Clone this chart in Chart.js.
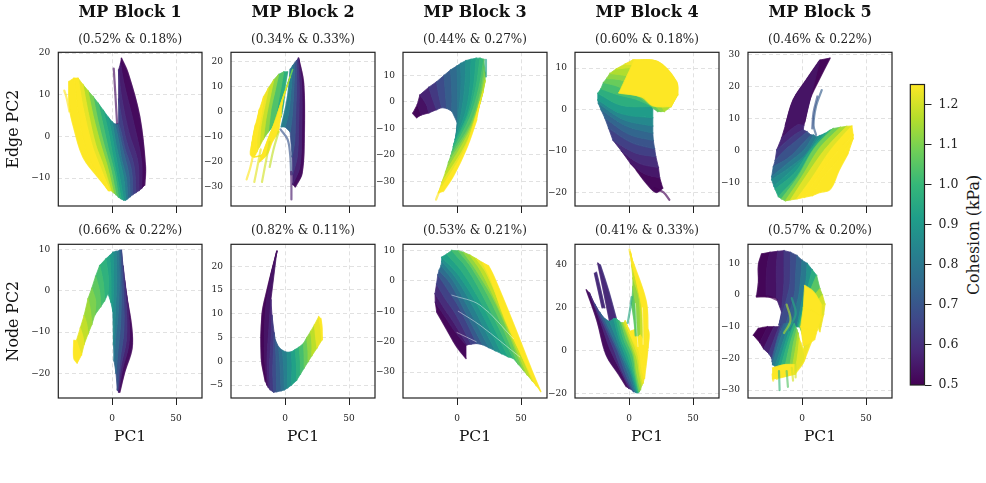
<!DOCTYPE html>
<html>
<head>
<meta charset="utf-8">
<title>MP Block PCA</title>
<script src="https://cdn.jsdelivr.net/npm/chart.js@4"></script>
<style>
  html, body { margin: 0; padding: 0; background: #fff; }
  #page { position: relative; width: 986px; height: 483px; overflow: hidden; }
  #page canvas { position: absolute; }
  #cbarLabel {
    position: absolute; left: 973px; top: 235px; white-space: nowrap;
    font: 15.8px "DejaVu Serif", serif; color: #1a1a1a;
    transform: translate(-50%, -50%) rotate(-90deg);
  }
</style>
</head>
<body>
<div id="page"><div id="cbarLabel">Cohesion (kPa)</div></div>
<script>
// every curve: cohesion first, then x,y pairs (PC1, PC2)
const blockTitles = ['MP Block 1', 'MP Block 2', 'MP Block 3', 'MP Block 4', 'MP Block 5'];
const edgeVariance = ['(0.52% & 0.18%)', '(0.34% & 0.33%)', '(0.44% & 0.27%)', '(0.60% & 0.18%)', '(0.46% & 0.22%)'];
const nodeVariance = ['(0.66% & 0.22%)', '(0.82% & 0.11%)', '(0.53% & 0.21%)', '(0.41% & 0.33%)', '(0.57% & 0.20%)'];
const xTicks = [0, 50];
const cbarTicks = [0.5, 0.6, 0.7, 0.8, 0.9, 1.0, 1.1, 1.2];

const edgeTicks1 = [-10, 0, 10, 20];
const edgeTicks2 = [-30, -20, -10, 0, 10, 20];
const edgeTicks3 = [-30, -20, -10, 0, 10];
const edgeTicks4 = [-20, -10, 0, 10];
const edgeTicks5 = [-10, 0, 10, 20, 30];
const nodeTicks1 = [-20, -10, 0, 10];
const nodeTicks2 = [-5, 0, 5, 10, 15, 20];
const nodeTicks3 = [-30, -20, -10, 0, 10];
const nodeTicks4 = [-20, 0, 20, 40];
const nodeTicks5 = [-30, -20, -10, 0, 10];

const edgeCurves1 = [
  [0.50, 7.2,18.8, 12.4,15.2, 21.5,4.8, 26,-7.3, 25.4,-11.7],
  [0.54, 6.5,17.5, 9,13, 17,3, 23,-6, 23,-12.5],
  [0.58, 5,16, 7,10, 13,1, 20,-6, 21,-13],
  [0.62, 5,9, 7,5, 11,-1, 17,-7, 18.5,-13.5],
  [0.67, 5,3.1, 7,1, 10,-3, 15,-8, 16,-14],
  [0.72, 4,3, 6,0, 9,-4, 13,-9, 14,-14.5],
  [0.78, 2,3, 5,-1, 7,-5, 11,-10, 12,-15],
  [0.85, 0,3.5, 3,-2, 6,-6, 9,-10, 10.5,-15.3],
  [0.90, -3,4.6, 0,0, 3,-5, 6,-10, 9,-15.3],
  [0.95, -7,6.3, -3,1, 0,-4, 4,-10, 7,-15],
  [1.00, -11,8, -7,2.5, -3,-3, 2,-9, 5,-14.6],
  [1.06, -15,9.6, -11,3.5, -6,-2.5, -1,-8, 3,-14],
  [1.13, -19,11, -15,5, -9,-2, -4,-7, 1,-13.5],
  [1.20, -23,12.5, -19,6, -13,-2, -7,-7, -1,-13],
  [1.25, -26.7,14, -23,7, -16,-2, -10,-7, -2,-13],
  [1.25, -30,14, -27,6, -21,-3, -14,-8, -3,-13],
  [1.25, -34,13.2, -33.5,7, -30,2, -22.8,-5, -12,-9.5, -2,-13],
];
const edgeStrands1 = [
  [0.52, 1.2,16.3, 2.5,10, 3.8,3.2],
  [1.25, -37.5,11, -35.5,9, -33.5,6],
];

const edgeCurves2a = [
  [0.50, 10.6,21.5, 14.5,11.5, 15,-8.5, 13.3,-24.5, 8,-30],
  [0.55, 10.5,21.5, 13,11, 13,-8, 11.5,-22, 6,-29],
  [0.60, 10,21, 11,11, 10.5,-7, 9.5,-18, 6,-25],
  [0.66, 9,20.5, 9,11, 8,-5, 7.5,-12, 5.5,-18],
  [0.72, 7.5,19.5, 7,11, 5.5,-2, 4,-8],
  [0.78, 6,18.5, 5,11, 3,0, 0,-6],
  [0.85, 4,17, 3,10, 1,3, -3,-6],
];
const edgeCurves2b = [
  [0.95, 2,16, 0,10, -1,4, -3,-2],
  [1.00, -1,16, -3,10, -6,2, -8,-5],
  [1.08, -5,15, -8,8, -11,1, -13,-8],
  [1.16, -8.8,12.8, -12,5, -15,-3, -17,-11],
  [1.22, -13,9.5, -16,2, -19,-6, -20,-14],
  [1.25, -16.7,6.1, -19,-2, -22,-10, -22,-16],
  [1.25, -20,1, -22,-5, -24,-12, -23,-17],
  [1.25, -23,-5, -25,-10, -26,-15, -24,-18],
  [1.25, -25.8,-12.5, -27,-17, -24,-18, -15,-17],
];
const edgeCurves2c = [
  [1.05, 6,17, 2,11, -2,4, -5,-2],
  [1.12, 4,14, 0,8, -4,2, -8,-4],
  [1.18, 2,11, -2,5, -6,-1, -10,-7],
  [1.22, 0,8, -4,2, -8,-5, -13,-12],
  [1.25, -2,4, -6,-2, -11,-8, -17,-16],
  [1.25, -3,-1, -7,-6, -12,-12, -19,-18],
  [1.25, -5,-8, -10,-12, -14,-17, -20,-20],
];
const edgeStrands2 = [
  [0.70, -3.5,-7, 2,-11, 4,-17, 4.8,-25],
  [0.55, 4.8,-24, 5,-30, 5,-35],
  [1.25, -24,-15, -27,-22, -30,-27],
  [1.22, -19,-15, -22,-23, -24,-28],
  [1.20, -12,-12, -15,-20, -18,-28],
  [1.18, -5,-8, -9,-15, -12,-22],
];

const edgeCurves3 = [
  [0.50, -34.6,-4.3, -31.5,-6],
  [0.52, -31,-1, -28,-5],
  [0.55, -29,2.6, -24,-1, -22,-4.2],
  [0.60, -22,5.5, -19,1, -16,-3],
  [0.65, -16,7.5, -14,2, -12,-2.2],
  [0.70, -10,10, -9,3, -8,-2.5],
  [0.74, -5,12, -4,4, -4,-3.6],
  [0.78, 0,13.5, 0.5,5, 0.3,-8],
  [0.82, 3,14.5, 3,4, 1,-5, -0.5,-12],
  [0.86, 7,15.5, 6,5, 3,-5, -1,-13],
  [0.90, 11,16, 10,5, 6,-5, -1.6,-14.3],
  [0.94, 15,16.4, 13,6, 8,-5, -2.5,-16],
  [0.98, 18,16.4, 15,6, 9,-5, -3,-17],
  [1.02, 21,16, 17,5, 10,-6, -4,-19],
  [1.06, 21.5,13, 18,3, 11,-8, -5,-20.5],
  [1.10, 22,11, 18,1, 10,-10, -6.8,-23],
  [1.15, 22,8, 17,-2, 9,-12, -9,-26.5],
  [1.20, 20.5,4, 15,-5, 7,-16, -12,-30.5],
  [1.25, 18,0, 13,-9, 5,-19, -14.6,-34.3],
  [1.25, 15.4,-6.8, 7.6,-17.4, -2.9,-28, -10.7,-33.7],
];
const edgeStrands3 = [
  [0.92, 22.6,15.8, 22.6,9.5],
  [1.25, -12,-32, -14.5,-34.5, -16.4,-36.8],
];

const edgeCurves4a = [
  [0.50, 5.6,-14.6, 14,-18, 21,-20, 26.4,-19],
  [0.53, 1,-13, 12,-15.5, 24,-16.5],
  [0.57, -6,-10, 8,-13, 23,-14],
  [0.62, -12.6,-7.4, 5,-10.5, 21,-11.4],
  [0.67, -16,-4.5, 2,-8, 20,-9.5],
  [0.72, -19,-2, 0,-6, 19,-7.5],
  [0.77, -22,0, -2,-4, 18.6,-5.7],
  [0.82, -24,1.5, -4,-2.5, 18.6,-4],
  [0.88, -24.4,2.3, -6,-1, 18.6,-2],
  [0.94, -24.4,3.9, -6,1, 18.6,0.7],
  [1.00, -22,5, -8,3.5, 5,2.5, 20,0.5],
  [1.05, -20,6.5, -8,5.5, 8,3, 22.5,-0.5],
  [1.10, -17.5,7.5, -5,7, 10,4, 25,-0.5],
  [1.14, -15,8.7, 0,8, 15,6, 27.7,-0.5],
  [1.18, -10,9.8, 3,10, 18,8, 33,0.7],
  [1.22, -3,11, 12,10.5, 25,9, 38,3.5],
  [1.25, 3,12, 22.5,11.5, 37,6.7, 38,3.5],
];
const edgeCurves4b = [
  [1.25, 4,11.8, 22.5,11.5, 37,6.7, 38,3.5],
  [1.25, -8,4, 10,3, 18.6,0.9, 33,0.7],
];
const edgeStrands4 = [
  [0.50, 20,-19, 27,-20, 31.5,-21.8],
];

const edgeCurves5 = [
  [0.50, 21.9,29, 13,22, 6,16, 2,9],
  [0.52, 14,28.4, 3,22, -6.8,16, -13,8],
  [0.56, 1.5,8, -4,8, -16,4],
  [0.60, 1,6.6, -6,5, -19.8,0.3],
  [0.66, 4,6, -5,3, -14,0, -21,-3],
  [0.72, 7,5, 0,2, -10,-2, -22.5,-5],
  [0.78, 9,5, 2,0.5, -10,-3.5, -23.7,-8],
  [0.84, 11.5,4.4, 3,-1, -9,-5, -23.7,-9],
  [0.88, 14,4.8, 4,-1, -8,-6, -22,-11],
  [0.92, 18,5.5, 6,0, -6,-7, -21,-12],
  [0.98, 22,6.5, 8,0, -4,-8, -18.5,-14.3],
  [1.05, 24.5,7, 10,1, -3,-8, -16,-15],
  [1.12, 30,7.4, 14,1, 0,-8, -13,-15.6],
  [1.18, 35,7.7, 18,0.5, 3,-8, -9,-15.3],
  [1.25, 39,7.8, 22,0, 7,-9, -4,-15],
  [1.25, 40,5, 24,-2, 11,-9, 2,-14.5],
  [1.25, 40,3.9, 28,-3, 15,-9, 8,-14],
  [1.25, 36,-0.8, 29,-6, 22,-12, 14,-13],
];
const edgeStrands5 = [
  [0.72, 15.4,19, 11,14, 9,8, 11,5],
  [0.70, 12,17, 9,12, 8,7],
];

const nodeCurves1 = [
  [0.50, 11,-1, 15,-8.3, 15.5,-13.9, 9.8,-19.6, 5.9,-24.5],
  [0.55, 9.5,3, 13,-6, 13,-13, 8,-19, 5,-24.5],
  [0.60, 8.5,6, 11,-4, 11,-12, 7,-18, 4.5,-24],
  [0.66, 7.2,9.8, 9,-2, 9,-10, 6,-17, 4,-24],
  [0.72, 6,9.8, 7,0, 6.5,-8, 4,-16, 3,-20],
  [0.78, 5,9.6, 5.5,2, 4.5,-6, 2.5,-12, 1.5,-17],
  [0.83, 3,9.5, 3.5,3, 2.5,-5, 1,-13],
  [0.88, 0.6,9.3, 1,3, 0.5,-5],
  [0.92, -2,8.5, -1,3, -1,-2.8],
  [0.96, -5,7.7, -3,3, -3.3,-0.7],
  [1.00, -9.8,6.1, -7,2, -6,-2.5],
  [1.04, -13,3.5, -10,0, -9,-3.9],
  [1.08, -16,0.6, -13,-2.5, -13.7,-5.9],
  [1.12, -18.9,-1.9, -17,-5, -16,-8.2],
  [1.16, -22,-6, -20,-8, -19,-10.5],
  [1.20, -25,-9, -23,-11, -22,-13],
  [1.25, -28,-12, -26,-14, -24,-15.5],
  [1.25, -30,-12, -30,-16.3, -27.4,-17.5],
];
const nodeStrands1 = [];

const nodeCurves2 = [
  [0.50, -6.3,23.2, -14,15, -18,9.7, -18.5,0.7, -15.4,-4.2],
  [0.52, -6.3,23.2, -12,16.7, -15.5,9.7, -16,1, -14,-5],
  [0.56, -11,13, -12.5,7, -14,0, -13,-5.5],
  [0.60, -10.2,9.7, -11,4, -12,-1, -11.5,-6],
  [0.65, -8.5,6, -9,2, -9.5,-2, -8.9,-6.5],
  [0.70, -7.6,4.5, -7,1, -6.5,-6.4],
  [0.75, -5,3, -4,0, -3,-6.2],
  [0.80, -2,2.3, -1,-1, -0.5,-6],
  [0.85, 1.6,1.9, 2,-1, 2,-5.6],
  [0.90, 5,2, 5.5,-1, 5,-5],
  [0.95, 8,2.5, 9,-1, 9,-4],
  [1.00, 11,3, 12,0, 12,-2.7],
  [1.05, 14.5,3.8, 15,1, 15,-1.4],
  [1.10, 17,5, 18,2, 18,-0.1],
  [1.15, 20,6.3, 21,4, 21,1.2],
  [1.20, 23,7.7, 24,5, 25,2.8],
  [1.25, 26.3,9.4, 28,7, 28.9,4.5],
  [1.25, 28,9, 28.9,7, 28.9,4.5],
];
const nodeStrands2 = [];

const nodeCurves3 = [
  [0.50, -15.9,-10.2, -8,-16, -0.2,-21.7, 7,-25.5],
  [0.53, -17,-7, -9,-12, -1,-17, 7,-21.1],
  [0.57, -17.2,-4.2, -10,-9, -2,-14, 8,-21],
  [0.62, -16,-1, -9,-6, -1,-11, 11,-20.8],
  [0.68, -15,2, -7,-3, 2,-9, 15.4,-20.6],
  [0.74, -14,3.5, -5,-1, 5,-9, 20,-21],
  [0.80, -12.5,5, -3,0, 9,-9, 25,-22],
  [0.85, -12,6.5, -1,1, 12,-8, 30,-23],
  [0.90, -12,7.8, 1,2, 16,-8, 35,-24],
  [0.95, -8,8.8, 4,3, 20,-8, 40,-25],
  [1.00, -4.2,10, 8,4, 24,-8, 44,-25.5],
  [1.05, 1,9.9, 12,4, 28,-8, 48,-27.5],
  [1.10, 5,9.4, 15,3.5, 31,-8, 52,-29.5],
  [1.15, 10,8.5, 19,3, 34,-10, 55,-31],
  [1.20, 15,7.3, 23,2.5, 37,-11, 59,-33],
  [1.25, 20,6, 26,1, 38,-13, 62,-34.5],
  [1.25, 24.5,5, 28.4,1.8, 44,-14, 58.3,-29.3, 65.4,-36.4],
];
const nodeStrands3 = [];
// pale streaks where neighbouring curves leave a gap
const nodeGaps3 = [
  [-4,-4.7, 18,-8, 44,-19],
  [1,-10, 18,-14.6, 49,-25],
  [0,-17, 15,-20],
];

const nodeCurves4a = [
  [0.55, -24.4,40.8, -20,28, -15.2,14],
  [0.62, -22.5,40, -16,28, -10,15],
];
const nodeCurves4b = [
  [0.58, -27,36, -24,28, -21,20],
  [0.60, -25.5,36.5, -22,28, -19,20],
];
const nodeCurves4c = [
  [0.50, -33.4,28.4, -25,14, -17.8,-1.9, -8,-11, -2.2,-16.6],
  [0.55, -31,27, -22,13, -15,1, -6,-10, 0,-17.5],
  [0.62, -27,22, -19,11, -12,1, -5,-10, 2,-18],
  [0.70, -23,18, -16,9, -9,0, -3,-10, 3.5,-19],
  [0.76, -19,15, -13,7, -7,-1, -1,-10, 4.5,-19],
  [0.84, -15.2,13.6, -10,6, -5,-2, 1,-10, 5.5,-19.4],
  [0.90, -12,15, -8,6, -3,-2, 2,-10, 6.5,-19.4],
  [0.96, -10,15, -6,5, -1,-2, 3,-10, 7,-19.4],
  [1.00, -8,14, -4,5, 1,-2, 4,-10, 7.5,-19],
  [1.06, -6,13, -2,5, 3,-2, 5,-10, 8,-19],
  [1.12, -5,13, 0,5, 4,-2, 6,-10, 9,-18],
  [1.18, -4,13, 1,5, 6,-3, 8,-10, 10,-16],
  [1.22, -3,14, 2,6, 7,-2, 9,-10, 11,-15],
  [1.25, -2,12, 3,6, 8,0, 10,-8, 12,-12.7],
  [1.25, 0,9, 6,2, 11,-2, 12,-12.7],
  [1.25, 5,10, 14.7,10, 14.7,1.3, 12,-12.7],
];
const nodeCurves4d = [
  [1.02, 2,22, 4,14, 5,7],
  [1.10, 3,30, 6,18, 7,7],
  [1.15, 3,34, 8,24, 9,8],
  [1.22, 2,40, 8,28, 11,12, 11,6],
  [1.25, 1,46, 6,32, 11,18, 12,5],
  [1.25, 3,41.5, 13.4,23, 14.7,10, 14.7,1.3],
];
const nodeStrands4 = [
  [0.95, -1,13, 1,20, 2,25],
  [1.25, 0.4,47, 2,42],
];
const nodeGaps4 = [
  [5,22, 6,10, 7,2],
  [10.5,20, 11,8, 11,3],
];

const nodeCurves5a = [
  [0.50, -35.4,-0.5, -34,4, -34,9.5, -31.5,13],
  [0.52, -28,-0.5, -28,5, -27,10, -25,13.5],
  [0.55, -20,-1, -20,4, -20,9, -19,13.8],
  [0.60, -16,-5.3, -14,4, -14,9, -14,14],
  [0.65, -18,-9.5, -10,2, -9,8, -9,13.5],
  [0.70, -14,-11, -6,0, -5,6, -4,12.5],
  [0.76, -10,-11, -3,-1, -1,5, 0,11],
  [0.84, -4,-10, 0,-2, 3,4, 4,10],
  [0.92, -3,-10, 2,-2, 5,3, 8,8],
  [1.00, -2,-10, 3,-2, 7,2, 11.4,6.2],
  [1.10, 0,-12, 6,-4, 10,0, 14,2],
  [1.18, 1,-14, 7,-6, 12,-2, 16,0],
  [1.22, 2,-15, 8,-8, 13,-4, 18,-2.9],
  [1.22, 1,-18, 7,-12, 13,-8, 17,-6],
  [1.25, 2.3,-20, 8,-14, 12,-10, 14,-11.6],
];
const nodeCurves5b = [
  [0.50, -34,-10.5, -38,-12.7],
  [0.50, -27,-10, -33,-15],
  [0.54, -22,-10, -30,-17],
  [0.60, -18,-10, -26,-18.5],
  [0.66, -16,-9, -23.6,-20],
  [0.72, -14,-9, -19,-14, -23.3,-21],
  [0.78, -12,-9, -17,-14, -23,-22],
  [0.84, -10,-9, -15,-15, -21,-22.5],
  [0.90, -8,-9, -13,-15, -19,-23],
  [0.96, -6,-9, -11,-15, -17,-23.5],
  [1.02, -5,-10, -9,-15, -14,-24],
  [1.08, -4,-11, -7,-16, -10,-24],
  [1.14, -3,-12, -5,-17, -8,-24],
  [1.20, -2,-14, -3,-18, -5.5,-25],
  [1.25, -1,-15, 2.3,-20, -5.5,-25],
];
const nodeCurves5c = [
  [1.25, -23,-23, -14,-22, -6,-22],
  [1.25, -23,-26.5, -16,-26, -6,-25],
];
const nodeCurves5d = [
  [1.25, 2,3, 9,1, 15,-3],
  [1.25, 1,-4, 8,-5, 15,-7],
  [1.25, -1,-10, 5,-11, 12,-11],
  [1.25, 1,-16, 6,-15, 10,-14],
];
const nodeStrands5 = [
  [0.50, -35.4,-0.5, -26,-0.5, -19.8,-1.5],
  [0.75, -5,-3, -7,-8, -10,-11],
  [0.95, -8,-1, -5,-6, -11,-11],
  [1.15, -12,-3, -9,-8, -14,-12],
  [1.00, -18,-24, -17.5,-30],
  [1.05, -12,-24, -11,-29],
  [1.20, -8,-23, -7,-27],
  [1.20, -5,-22, -5,-26],
  [1.25, -23,-25, -22.5,-27],
  [1.25, -20,-25, -19.5,-26.5],
];

const viridisStops = ['#440154', '#482878', '#3e4989', '#31688e', '#26828e', '#1f9e89', '#35b779', '#6ece58', '#b5de2b', '#fde725'];
const cohesionMin = 0.5, cohesionMax = 1.25;

const fontFamily = '"DejaVu Serif", serif';
const inkColor = '#222';
const xRange = [-42.2, 70.3];
const panelLefts = [58.3, 230.7, 403, 575.3, 747.7];
const panelWidth = 144;
const curveWidth = 1.6;
const strandWidth = 2.2;

// y limits and curves, one row per block
const edgePanels = [
  { ticks: edgeTicks1, ylim: [-16.7, 20.2], sheets: [edgeCurves1], strands: edgeStrands1 },
  { ticks: edgeTicks2, ylim: [-37.6, 23.8], sheets: [edgeCurves2a, edgeCurves2b, edgeCurves2c], strands: edgeStrands2 },
  { ticks: edgeTicks3, ylim: [-39.2, 18.6], sheets: [edgeCurves3], strands: edgeStrands3 },
  { ticks: edgeTicks4, ylim: [-23.3, 13.8], sheets: [edgeCurves4a, edgeCurves4b], strands: edgeStrands4 },
  { ticks: edgeTicks5, ylim: [-17.2, 30.8], sheets: [edgeCurves5], strands: edgeStrands5 },
];
const nodePanels = [
  { ticks: nodeTicks1, ylim: [-25.9, 11.2], sheets: [nodeCurves1], strands: nodeStrands1 },
  { ticks: nodeTicks2, ylim: [-7.7, 24.6], sheets: [nodeCurves2], strands: nodeStrands2 },
  { ticks: nodeTicks3, ylim: [-38.5, 12], sheets: [nodeCurves3], strands: nodeStrands3, gaps: nodeGaps3 },
  { ticks: nodeTicks4, ylim: [-21.9, 49.5], sheets: [nodeCurves4a, nodeCurves4b, nodeCurves4c, nodeCurves4d], strands: nodeStrands4, gaps: nodeGaps4 },
  { ticks: nodeTicks5, ylim: [-32.5, 16], sheets: [nodeCurves5a, nodeCurves5b, nodeCurves5c, nodeCurves5d], strands: nodeStrands5 },
];

function hexToRgb(hex) {
  return [1, 3, 5].map(i => parseInt(hex.substr(i, 2), 16));
}

function viridis(c) {
  const t = Math.min(1, Math.max(0, (c - cohesionMin) / (cohesionMax - cohesionMin))) * (viridisStops.length - 1);
  const i = Math.min(viridisStops.length - 2, Math.floor(t));
  const a = hexToRgb(viridisStops[i]), b = hexToRgb(viridisStops[i + 1]);
  return a.map((v, k) => Math.round(v + (b[k] - v) * (t - i)));
}

function lineDataset(pairs, lineWidth, color) {
  const points = [];
  for (let i = 0; i < pairs.length; i += 2) {
    points.push({ x: pairs[i], y: pairs[i + 1] });
  }
  return {
    data: points,
    showLine: true,
    tension: 0.35,
    pointRadius: 0,
    borderWidth: lineWidth,
    borderCapStyle: 'round',
    borderJoinStyle: 'round',
    borderColor: color,
  };
}

function toDataset(curve, lineWidth, alpha) {
  const color = 'rgba(' + viridis(curve[0]).join(',') + ',' + alpha + ')';
  return lineDataset(curve.slice(1), lineWidth, color);
}

// neighbouring curves of a sheet are dense in the source data, so the space
// between two of them is painted as one band, using the scaled point positions
const bandPlugin = {
  id: 'bands',
  beforeDatasetDraw(chart, args) {
    const ds = chart.data.datasets[args.index];
    if (ds.bandWith === undefined) return;
    const metaA = chart.getDatasetMeta(args.index);
    const metaB = chart.getDatasetMeta(ds.bandWith);
    metaA.dataset.updateControlPoints(chart.chartArea);
    metaB.dataset.updateControlPoints(chart.chartArea);
    const a = metaA.data, b = metaB.data;
    const ctx = chart.ctx;
    ctx.save();
    ctx.beginPath();
    ctx.moveTo(a[0].x, a[0].y);
    for (let i = 1; i < a.length; i++) {
      ctx.bezierCurveTo(a[i - 1].cp2x, a[i - 1].cp2y, a[i].cp1x, a[i].cp1y, a[i].x, a[i].y);
    }
    ctx.lineTo(b[b.length - 1].x, b[b.length - 1].y);
    for (let i = b.length - 1; i > 0; i--) {
      ctx.bezierCurveTo(b[i].cp1x, b[i].cp1y, b[i - 1].cp2x, b[i - 1].cp2y, b[i - 1].x, b[i - 1].y);
    }
    ctx.closePath();
    ctx.fillStyle = ds.bandColor;
    ctx.strokeStyle = ds.bandColor;
    ctx.lineWidth = 0.8;
    ctx.fill();
    ctx.stroke();
    ctx.restore();
  }
};

// four-sided axes frame
const framePlugin = {
  id: 'frame',
  afterDraw(chart) {
    const { ctx, chartArea: a } = chart;
    ctx.save();
    ctx.strokeStyle = inkColor;
    ctx.lineWidth = 1.2;
    ctx.strokeRect(a.left, a.top, a.right - a.left, a.bottom - a.top);
    ctx.restore();
  }
};

function addCanvas(left, top, width, height) {
  const canvas = document.createElement('canvas');
  canvas.style.left = left + 'px';
  canvas.style.top = top + 'px';
  canvas.style.width = width + 'px';
  canvas.style.height = height + 'px';
  canvas.width = width;
  canvas.height = height;
  document.getElementById('page').appendChild(canvas);
  return canvas;
}

function buildDatasets(panel) {
  // listed bottom layer first; chart.js paints the last dataset first, so flip at the end
  const list = [];
  panel.sheets.forEach(sheet => {
    sheet.forEach((curve, k) => {
      const ds = toDataset(curve, curveWidth, 0.55);
      if (k > 0) {
        const mid = viridis((curve[0] + sheet[k - 1][0]) / 2);
        ds.bandColor = 'rgb(' + mid.join(',') + ')';
        ds.bandPrev = list.length - 1;
      }
      list.push(ds);
    });
  });
  (panel.gaps || []).forEach(pairs => list.push(lineDataset(pairs, 1, 'rgba(255,255,255,0.45)')));
  panel.strands.forEach(curve => list.push(toDataset(curve, strandWidth, 0.65)));
  const last = list.length - 1;
  list.forEach(ds => {
    if (ds.bandPrev !== undefined) ds.bandWith = last - ds.bandPrev;
  });
  return list.reverse();
}

function drawPanel(panel, col, isTop) {
  const yAxisWidth = col === 0 ? panelLefts[0] : 28;
  const left = panelLefts[col] - yAxisWidth;
  const top = isTop ? 0 : 215;
  const bottomAxis = isTop ? 8 : 48;
  const height = isTop ? 214 : 231.3;

  new Chart(addCanvas(left, top, yAxisWidth + panelWidth + 3, height), {
    type: 'scatter',
    data: { datasets: buildDatasets(panel) },
    plugins: [bandPlugin, framePlugin],
    options: {
      responsive: false,
      animation: false,
      layout: { padding: { right: 3 } },
      plugins: {
        legend: { display: false },
        tooltip: { enabled: false },
        title: {
          display: isTop,
          fullSize: false,
          text: blockTitles[col],
          color: '#111',
          font: { family: fontFamily, size: 16, weight: 'bold' },
          padding: { top: 3.4, bottom: 0 },
        },
        subtitle: {
          display: true,
          fullSize: false,
          text: isTop ? edgeVariance[col] : nodeVariance[col],
          color: '#222',
          font: { family: fontFamily, size: 12, weight: 'normal' },
          padding: isTop ? { top: 10.2, bottom: 5.1 } : { top: 8.5, bottom: 6.4 },
        },
      },
      scales: {
        x: {
          type: 'linear',
          min: xRange[0],
          max: xRange[1],
          afterBuildTicks(axis) { axis.ticks = xTicks.map(v => ({ value: v })); },
          afterFit(axis) { axis.height = bottomAxis; },
          grid: { color: 'rgba(170,170,170,0.35)', lineWidth: 1, tickLength: 7, tickColor: inkColor, tickWidth: 1 },
          border: { display: false, dash: [4, 3] },
          ticks: {
            display: !isTop, color: '#222', padding: 8, maxRotation: 0,
            font: { family: fontFamily, size: 9 },
          },
          title: {
            display: !isTop, text: 'PC1', color: '#111',
            font: { family: fontFamily, size: 15.5 }, padding: { top: 0, bottom: 0 },
          },
        },
        y: {
          type: 'linear',
          min: panel.ylim[0],
          max: panel.ylim[1],
          afterBuildTicks(axis) { axis.ticks = panel.ticks.map(v => ({ value: v })); },
          afterFit(axis) { axis.width = yAxisWidth; },
          grid: { color: 'rgba(170,170,170,0.35)', lineWidth: 1, tickLength: 8, tickColor: 'rgba(0,0,0,0)' },
          border: { display: false, dash: [4, 3] },
          ticks: {
            color: '#222', padding: 0,
            font: { family: fontFamily, size: 9 },
            callback: v => String(v).replace('-', '\u2212'),
          },
          title: {
            display: col === 0, text: isTop ? 'Edge PC2' : 'Node PC2', color: '#111',
            font: { family: fontFamily, size: 15.8 }, padding: { top: 4.5, bottom: 0 },
          },
        },
      },
    },
  });
}

edgePanels.forEach((p, i) => drawPanel(p, i, true));
nodePanels.forEach((p, i) => drawPanel(p, i, false));

// colorbar: one floating bar over the cohesion range, painted with the colormap
new Chart(addCanvas(900, 70, 86, 330), {
  type: 'bar',
  data: {
    labels: ['Cohesion'],
    datasets: [{
      data: [[cohesionMin, cohesionMax]],
      barPercentage: 1,
      categoryPercentage: 1,
      backgroundColor(context) {
        const area = context.chart.chartArea;
        if (!area) return viridisStops[0];
        const g = context.chart.ctx.createLinearGradient(0, area.bottom, 0, area.top);
        viridisStops.forEach((s, i) => g.addColorStop(i / (viridisStops.length - 1), s));
        return g;
      },
    }],
  },
  plugins: [framePlugin],
  options: {
    responsive: false,
    animation: false,
    layout: { padding: { left: 10.3, top: 13, bottom: 15 } },
    plugins: { legend: { display: false }, tooltip: { enabled: false } },
    scales: {
      x: { display: false },
      y: {
        position: 'right',
        min: cohesionMin,
        max: cohesionMax,
        afterBuildTicks(axis) { axis.ticks = cbarTicks.map(v => ({ value: v })); },
        afterFit(axis) { axis.width = 61.5; },
        grid: { drawOnChartArea: false, tickLength: 7, tickColor: inkColor, tickWidth: 1 },
        border: { display: false },
        ticks: {
          color: '#222', padding: 7,
          font: { family: fontFamily, size: 12.5 },
          callback: v => v.toFixed(1),
        },
      },
    },
  },
});
</script>
</body>
</html>
